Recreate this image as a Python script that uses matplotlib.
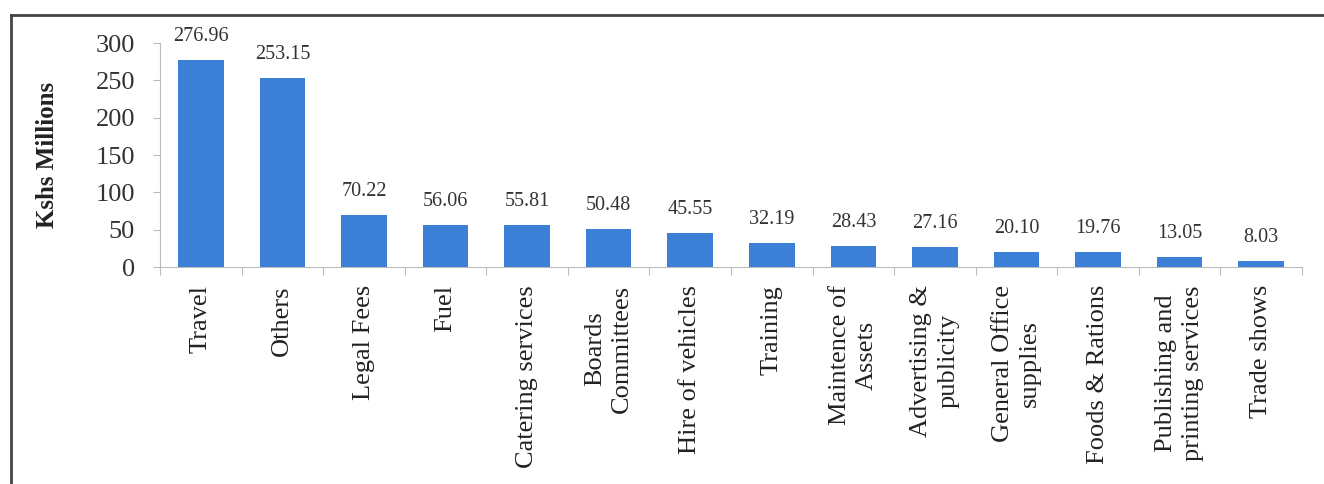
import matplotlib.pyplot as plt
from matplotlib.lines import Line2D
import numpy as np

categories = ["Travel", "Others", "Legal Fees", "Fuel", "Catering services",
              "Boards\nCommittees", "Hire of vehicles", "Training",
              "Maintence of\nAssets", "Advertising &\npublicity",
              "General Office\nsupplies", "Foods & Rations",
              "Publishing and\nprinting services", "Trade shows"]
values = [276.96, 253.15, 70.22, 56.06, 55.81, 50.48, 45.55, 32.19,
          28.43, 27.16, 20.10, 19.76, 13.05, 8.03]
value_labels = ["276.96", "253.15", "70.22", "56.06", "55.81", "50.48", "45.55",
                "32.19", "28.43", "27.16", "20.10", "19.76", "13.05", "8.03"]
yticks = [0, 50, 100, 150, 200, 250, 300]

plt.rcParams['font.family'] = ['Liberation Serif', 'DejaVu Serif']

W, H = 1324, 484
fig = plt.figure(figsize=(W / 100, H / 100), dpi=100)
ax = fig.add_axes([160 / W, 1 - 267 / H, (1302 - 160) / W, (267 - 43) / H])

x = np.arange(len(categories))
bars = ax.bar(x, values, width=0.56, color="#3C7FD6", zorder=2)

for xi, v, lab in zip(x, values, value_labels):
    ax.annotate(lab, (xi, v), xytext=(0, 10), textcoords="offset points",
                ha="center", va="bottom", fontsize=14.5, color="#333333")

ax.set_xlim(-0.5, len(categories) - 0.5)
ax.set_ylim(0, 300)
ax.set_yticks(yticks)
ax.tick_params(axis="y", labelsize=19, colors="#BBBBBB", labelcolor="#333333",
               length=5, pad=13)

# boundaries get the tick marks, centres get the labels
ax.set_xticks(np.arange(len(categories) + 1) - 0.5)
ax.set_xticklabels([])
ax.set_xticks(x, minor=True)
ax.set_xticklabels(categories, minor=True, rotation=90, fontsize=19,
                   color="#222222", linespacing=1.3, multialignment="center")
ax.tick_params(axis="x", which="major", length=6, colors="#BBBBBB")
ax.tick_params(axis="x", which="minor", length=0, pad=13)

for s in ["top", "right"]:
    ax.spines[s].set_visible(False)
for s in ["left", "bottom"]:
    ax.spines[s].set_color("#BBBBBB")

fig.text(48 / W, 1 - 155 / H, "Kshs Millions", rotation=90, ha="center",
         va="center", fontsize=18, fontweight="bold", color="#222222")

# outer frame (only top and left edges are inside the picture)
fig.add_artist(Line2D([11 / W, 1.0], [1 - 15 / H, 1 - 15 / H],
                      transform=fig.transFigure, color="#444444", lw=2))
fig.add_artist(Line2D([11 / W, 11 / W], [0, 1 - 15 / H],
                      transform=fig.transFigure, color="#444444", lw=2))

fig.savefig("out.png", dpi=100)
